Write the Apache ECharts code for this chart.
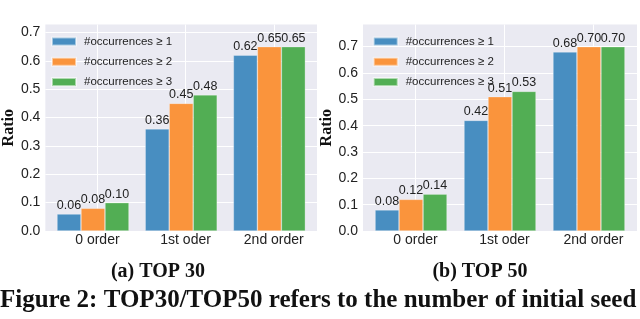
<!DOCTYPE html>
<html>
<head>
<meta charset="utf-8">
<script src="https://cdn.jsdelivr.net/npm/echarts@6/dist/echarts.min.js"></script>
<style>html,body{margin:0;padding:0;background:#fff;}#c{width:640px;height:319px;}</style>
</head>
<body>
<div id="c"></div>
<script>
// ---- data ----
const categories = ['0 order', '1st oder', '2nd order'];
const seriesNames = ['#occurrences \u2265 1', '#occurrences \u2265 2', '#occurrences \u2265 3'];
const top30_occ1 = [0.06, 0.36, 0.62];
const top30_occ2 = [0.08, 0.45, 0.65];
const top30_occ3 = [0.10, 0.48, 0.65];
const top50_occ1 = [0.08, 0.42, 0.68];
const top50_occ2 = [0.12, 0.51, 0.70];
const top50_occ3 = [0.14, 0.53, 0.70];
const yTicks = [0, 0.1, 0.2, 0.3, 0.4, 0.5, 0.6, 0.7];
const captions = ['(a) TOP 30', '(b) TOP 50'];
const figureCaption = 'Figure 2: TOP30/TOP50 refers to the number of initial seed';

// ---- styling ----
const colors = ['#488ec1', '#fa943c', '#52ae54'];
const bg = '#eaeaf2';
const textColor = '#222222';
const tickShift = 0.05;
const catIdx = categories.map((_, i) => i);
const xTickVals = catIdx.map(i => i + tickShift);

function xAxis(gridIndex) {
  return {
    type: 'value', gridIndex, min: -0.54, max: 2.54,
    axisLine: {show: false},
    axisTick: {show: false, customValues: xTickVals},
    splitLine: {show: true, lineStyle: {color: '#ffffff', width: 1}},
    axisLabel: {
      customValues: xTickVals, margin: 2,
      fontFamily: 'Liberation Sans', fontSize: 14, color: textColor,
      formatter: v => categories[Math.round(v - tickShift)]
    }
  };
}
function yAxis(gridIndex, max) {
  return {
    type: 'value', gridIndex, min: 0, max: max, interval: 0.1,
    name: 'Ratio', nameLocation: 'middle', nameGap: 27,
    nameTextStyle: {fontFamily: 'Liberation Serif', fontWeight: 'bold', fontSize: 16, color: '#111'},
    axisLine: {show: false},
    axisTick: {show: false, customValues: yTicks},
    splitLine: {show: true, lineStyle: {color: '#ffffff', width: 1}},
    axisLabel: {
      customValues: yTicks, margin: 5,
      fontFamily: 'Liberation Sans', fontSize: 14, color: textColor,
      formatter: v => v.toFixed(1)
    }
  };
}
function barSeries(name, values, k, axisIdx) {
  return {
    type: 'bar', name, xAxisIndex: axisIdx, yAxisIndex: axisIdx,
    data: values.map((v, i) => [catIdx[i], v]),
    barWidth: 24, barGap: '0%',
    itemStyle: {color: colors[k], borderColor: 'rgba(255,255,255,0.5)', borderWidth: 0.6},
    label: {
      show: true, position: 'top', distance: 2,
      fontFamily: 'Liberation Sans', fontSize: 12.5, color: textColor,
      formatter: p => p.value[1].toFixed(2)
    },
    emphasis: {disabled: true}
  };
}
function legend(left) {
  return {
    orient: 'vertical', left: left, top: 35.5, padding: 0,
    itemWidth: 24, itemHeight: 8, itemGap: 8.3, icon: 'rect',
    textStyle: {fontFamily: 'Liberation Sans', fontSize: 11.5, color: textColor, padding: [0, 0, 0, 3]},
    data: seriesNames
  };
}

const chart = echarts.init(document.getElementById('c'), null, {renderer: 'canvas'});
chart.setOption({
  animation: false,
  color: colors,
  grid: [
    {left: 41, top: 24.5, width: 276, height: 206.5, show: true, backgroundColor: bg, borderWidth: 0, containLabel: false},
    {left: 363, top: 24.5, width: 274, height: 206.5, show: true, backgroundColor: bg, borderWidth: 0, containLabel: false}
  ],
  xAxis: [xAxis(0), xAxis(1)],
  yAxis: [yAxis(0, 0.728), yAxis(1, 0.784)],
  legend: [legend(51), legend(372.7)],
  series: [
    barSeries(seriesNames[0], top30_occ1, 0, 0),
    barSeries(seriesNames[1], top30_occ2, 1, 0),
    barSeries(seriesNames[2], top30_occ3, 2, 0),
    barSeries(seriesNames[0], top50_occ1, 0, 1),
    barSeries(seriesNames[1], top50_occ2, 1, 1),
    barSeries(seriesNames[2], top50_occ3, 2, 1)
  ],
  graphic: [
    {type: 'text', x: 158, y: 272, style: {text: captions[0], font: 'bold 20px "Liberation Serif"', fill: '#111', align: 'center', verticalAlign: 'middle'}},
    {type: 'text', x: 480, y: 272, style: {text: captions[1], font: 'bold 20px "Liberation Serif"', fill: '#111', align: 'center', verticalAlign: 'middle'}},
    {type: 'text', x: 0, y: 301, style: {text: figureCaption, font: 'bold 25px "Liberation Serif"', fill: '#111', align: 'left', verticalAlign: 'middle'}}
  ]
});
</script>
</body>
</html>
